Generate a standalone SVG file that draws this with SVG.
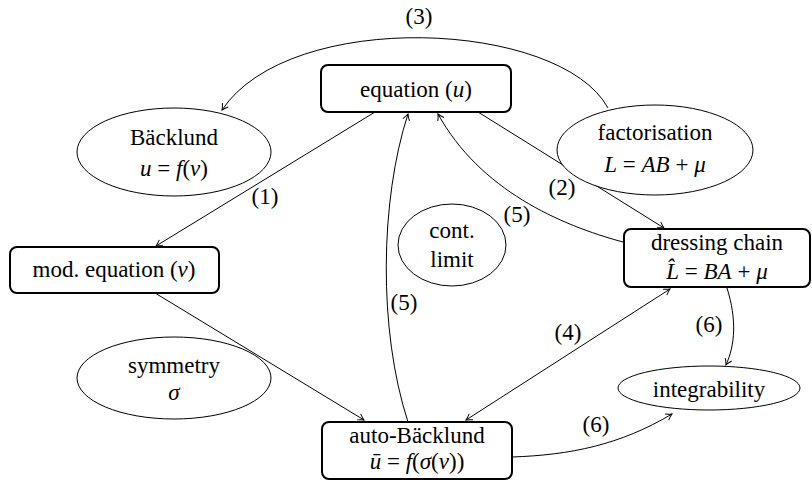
<svg xmlns="http://www.w3.org/2000/svg" width="812" height="481" viewBox="0 0 812 481">
<defs>
<marker id="arr" viewBox="-8 -5 10 10" refX="0" refY="0" markerWidth="10" markerHeight="10" markerUnits="userSpaceOnUse" orient="auto-start-reverse">
<path d="M-6,-3.5 Q-2.5,-1 0,0 Q-2.5,1 -6,3.5" fill="none" stroke="#000" stroke-width="1"/>
</marker>
</defs>
<style>
text{font-family:"Liberation Serif","DejaVu Serif",serif;font-size:23px;fill:#000;text-anchor:middle}
.m{font-style:italic}
.box{fill:#fff;stroke:#000;stroke-width:2}
.ell{fill:#fff;stroke:#000;stroke-width:1}
.e{fill:none;stroke:#000;stroke-width:1}
.a{marker-end:url(#arr)}
.d{marker-start:url(#arr);marker-end:url(#arr)}
</style>
<rect width="812" height="481" fill="#fff"/>
<g id="connectors">
<path class="e a" d="M608,108 C560,20 290,8 222,110"/>
<path class="e a" d="M375,112 L156,246"/>
<path class="e a" d="M478,112 L664,228"/>
<path class="e a" d="M623,242 C560,225 480,190 438,114"/>
<path class="e a" d="M155,293 L364,420"/>
<path class="e a" d="M408,422 C378,330 380,200 408,114"/>
<path class="e d" d="M466,420 L670,289"/>
<path class="e a" d="M727,288 C737,320 735,345 726,365"/>
<path class="e a" d="M512,457 C570,455 620,445 672,414"/>
<text x="419" y="24">(3)</text>
<text x="265" y="204">(1)</text>
<text x="562" y="195">(2)</text>
<text x="517" y="222">(5)</text>
<text x="404" y="310">(5)</text>
<text x="568" y="340">(4)</text>
<text x="709" y="332">(6)</text>
<text x="596" y="432">(6)</text>
</g>
<g id="equation">
<rect class="box" x="321" y="65" width="190" height="47" rx="7"/>
<text x="416" y="97">equation (<tspan class="m">u</tspan>)</text>
</g>
<g id="backlund">
<ellipse class="ell" cx="174" cy="152" rx="97" ry="44"/>
<text x="174" y="145">Bäcklund</text>
<text x="174" y="176"><tspan class="m">u</tspan> = <tspan class="m">f</tspan>(<tspan class="m">v</tspan>)</text>
</g>
<g id="factorisation">
<ellipse class="ell" cx="655" cy="150" rx="98" ry="45"/>
<text x="655" y="140">factorisation</text>
<text x="655" y="172"><tspan class="m">L</tspan> = <tspan class="m">AB</tspan> + <tspan class="m">μ</tspan></text>
</g>
<g id="modequation">
<rect class="box" x="10" y="247" width="209" height="46" rx="7"/>
<text x="114" y="277">mod. equation (<tspan class="m">v</tspan>)</text>
</g>
<g id="contlimit">
<ellipse class="ell" cx="452" cy="245" rx="54" ry="41"/>
<text x="452" y="238">cont.</text>
<text x="452" y="267">limit</text>
</g>
<g id="dressing">
<rect class="box" x="624" y="229" width="186" height="58" rx="7"/>
<text x="717" y="250">dressing chain</text>
<text x="717" y="279"><tspan class="m">L̂</tspan> = <tspan class="m">BA</tspan> + <tspan class="m">μ</tspan></text>
</g>
<g id="symmetry">
<ellipse class="ell" cx="174" cy="378" rx="97" ry="41"/>
<text x="174" y="373">symmetry</text>
<text x="174" y="400" class="m">σ</text>
</g>
<g id="integrability">
<ellipse class="ell" cx="709" cy="388" rx="91" ry="22"/>
<text x="709" y="397">integrability</text>
</g>
<g id="autobacklund">
<rect class="box" x="322" y="422" width="190" height="57" rx="7"/>
<text x="417" y="443">auto-Bäcklund</text>
<text x="417" y="469"><tspan class="m">ū</tspan> = <tspan class="m">f</tspan>(<tspan class="m">σ</tspan>(<tspan class="m">v</tspan>))</text>
</g>
</svg>
